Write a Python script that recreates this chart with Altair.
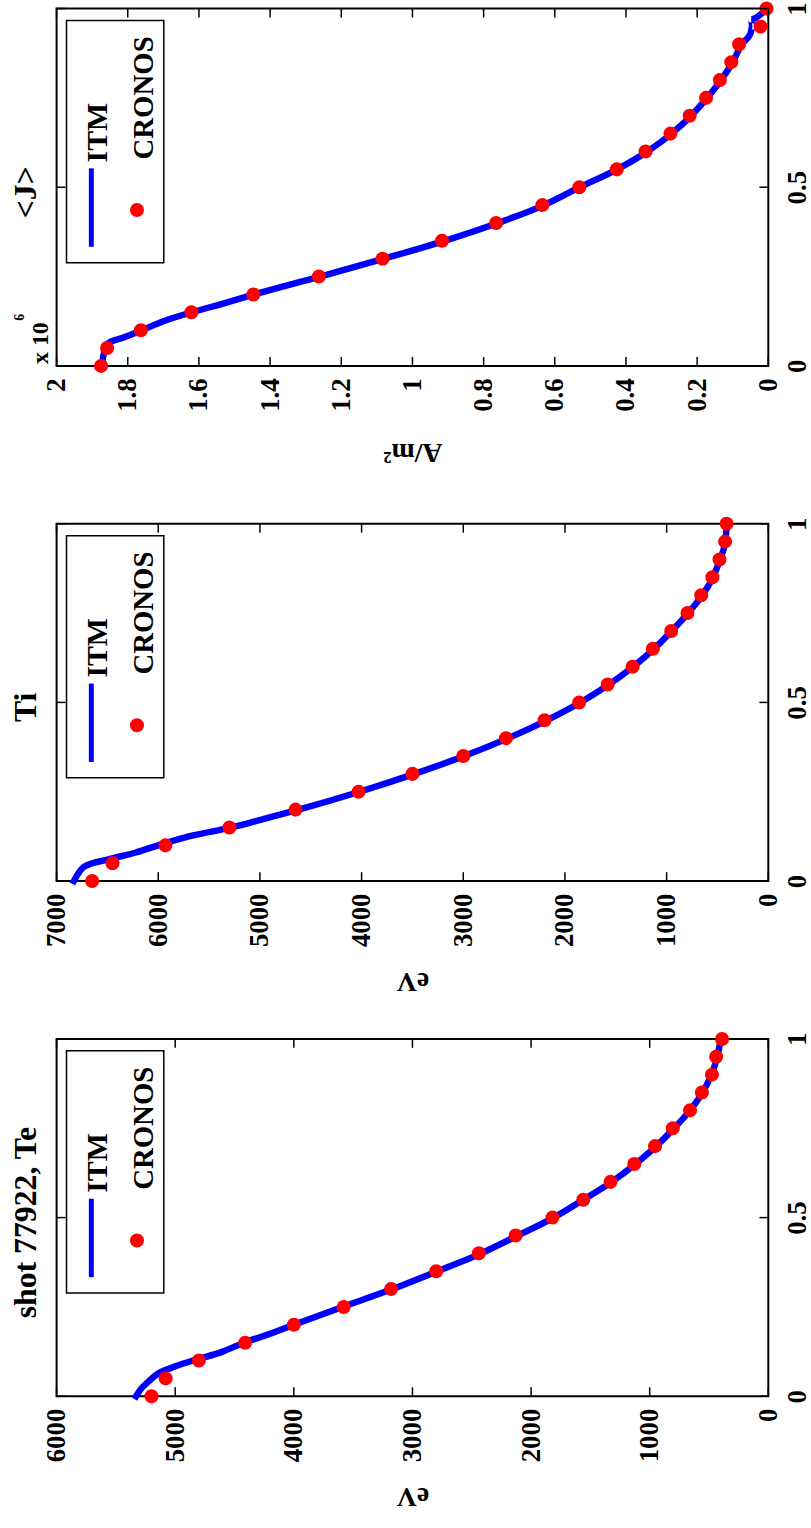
import altair as alt
import pandas as pd

# ---------------- data ----------------
RHO_DOTS = [0.0, 0.05, 0.1, 0.15, 0.2, 0.25, 0.3, 0.35, 0.4, 0.45, 0.5,
            0.55, 0.6, 0.65, 0.7, 0.75, 0.8, 0.85, 0.9, 0.95, 1.0]
TE_CRONOS = [5200, 5080, 4800, 4410, 4000, 3580, 3180, 2800, 2440, 2130, 1820,
             1560, 1330, 1130, 955, 805, 660, 560, 475, 440, 390]
TI_CRONOS = [6650, 6450, 5930, 5300, 4650, 4030, 3500, 3000, 2580, 2200, 1860,
             1580, 1335, 1135, 955, 795, 660, 550, 480, 425, 410]
J_CRONOS = [1.875, 1.858, 1.763, 1.621, 1.447, 1.263, 1.084, 0.917, 0.765, 0.635, 0.531,
            0.426, 0.345, 0.275, 0.221, 0.175, 0.136, 0.104, 0.082, 0.022, 0.005]

RHO_LINE = [0.0, 0.02, 0.04, 0.06, 0.08, 0.1, 0.125, 0.15, 0.175, 0.2, 0.25, 0.3,
            0.35, 0.4, 0.45, 0.5, 0.55, 0.6, 0.65, 0.7, 0.75, 0.8, 0.85, 0.9, 0.95, 1.0]
TE_ITM = [5330, 5290, 5230, 5160, 5030, 4850, 4600, 4420, 4200, 4000, 3590, 3170,
          2790, 2420, 2110, 1810, 1560, 1320, 1120, 945, 795, 660, 555, 480, 430, 400]
TI_ITM = [6830, 6790, 6730, 6500, 6220, 6000, 5700, 5280, 4950, 4620, 4020, 3480,
          2990, 2560, 2180, 1850, 1570, 1330, 1125, 950, 790, 650, 545, 475, 425, 405]

RHO_LINE_J = [0.0, 0.02, 0.04, 0.06, 0.08, 0.1, 0.125, 0.15, 0.175, 0.2, 0.25, 0.3,
              0.35, 0.4, 0.45, 0.5, 0.55, 0.6, 0.65, 0.7, 0.75, 0.8, 0.85, 0.9,
              0.93, 0.95, 0.97, 0.985, 1.0]
J_ITM = [1.87, 1.87, 1.865, 1.86, 1.81, 1.76, 1.70, 1.62, 1.53, 1.445, 1.26, 1.08,
         0.91, 0.76, 0.63, 0.53, 0.425, 0.34, 0.272, 0.217, 0.172, 0.133, 0.10, 0.075,
         0.05, 0.045, 0.048, 0.02, 0.005]

TE_TICKS = [0, 1000, 2000, 3000, 4000, 5000, 6000]
TI_TICKS = [0, 1000, 2000, 3000, 4000, 5000, 6000, 7000]
J_TICKS = [0, 0.2, 0.4, 0.6, 0.8, 1.0, 1.2, 1.4, 1.6, 1.8, 2.0]
RHO_TICKS = [0, 0.5, 1]

TITLES = ["<J>", "Ti", "shot 77922, Te"]
UNITS = ["A/m²", "eV", "eV"]
LEGEND = ["ITM", "CRONOS"]
EXPONENT = ["x 10", "6"]

W, H = 717, 360
FONT = "Liberation Serif"
BLUE = "#0000ff"
RED = "#ff0000"


def txt(value, **kw):
    base = dict(font=FONT, fontWeight="bold", color="black")
    base.update(kw)
    return alt.Chart(pd.DataFrame({"t": [value]})).mark_text(**base)


def panel(rho_line, itm, cronos, vticks, vmax, title, unit, fmt, title_y, exponent=False):
    xs = alt.Scale(domain=[0, vmax], reverse=True, nice=False, zero=False)
    ys = alt.Scale(domain=[0, 1], nice=False)
    xaxis = alt.Axis(values=vticks, format=fmt, orient="bottom", labelAngle=270,
                     labelAlign="right", labelBaseline="middle", labelPadding=12,
                     labelFont=FONT, labelFontSize=27, labelFontWeight="bold",
                     labelColor="black", ticks=False, tickSize=0, domain=False,
                     grid=False, labelOverlap=False, labelFlush=False,
                     title=unit, titleAngle=180, titleX=W / 2, titleY=title_y,
                     titleAlign="center", titleBaseline="middle", titleFont=FONT,
                     titleFontSize=28, titleFontWeight="bold", titleColor="black")
    yaxis = alt.Axis(values=RHO_TICKS, format="~g", orient="right", labelAngle=270,
                     labelAlign="center", labelBaseline="top", labelPadding=16,
                     labelFont=FONT, labelFontSize=27, labelFontWeight="bold",
                     labelColor="black", ticks=False, tickSize=0, domain=False,
                     grid=False, labelOverlap=False, labelFlush=False, title=None)

    line_df = pd.DataFrame({"rho": rho_line, "v": itm})
    dot_df = pd.DataFrame({"rho": RHO_DOTS, "v": cronos})

    line = alt.Chart(line_df).mark_line(color=BLUE, strokeWidth=6.5, strokeCap="square",
                                        interpolate="monotone").encode(
        x=alt.X("v:Q", scale=xs, axis=xaxis),
        y=alt.Y("rho:Q", scale=ys, axis=yaxis),
        order="rho:Q",
    )
    dots = alt.Chart(dot_df).mark_point(filled=True, color=RED, size=200, opacity=1).encode(
        x=alt.X("v:Q", scale=xs), y=alt.Y("rho:Q", scale=ys)
    )

    vt = pd.DataFrame({"v": vticks})
    rt = pd.DataFrame({"rho": RHO_TICKS})
    tick_style = dict(color="black", strokeWidth=1.5)
    vt_bot = alt.Chart(vt).mark_rule(**tick_style).encode(
        x=alt.X("v:Q", scale=xs), y=alt.value(H), y2=alt.value(H - 9))
    vt_top = alt.Chart(vt).mark_rule(**tick_style).encode(
        x=alt.X("v:Q", scale=xs), y=alt.value(0), y2=alt.value(9))
    rt_right = alt.Chart(rt).mark_rule(**tick_style).encode(
        y=alt.Y("rho:Q", scale=ys), x=alt.value(W), x2=alt.value(W - 9))
    rt_left = alt.Chart(rt).mark_rule(**tick_style).encode(
        y=alt.Y("rho:Q", scale=ys), x=alt.value(0), x2=alt.value(9))

    one = pd.DataFrame({"a": [0]})
    box = alt.Chart(one).mark_rect(fillOpacity=0, stroke="black", strokeWidth=1.5).encode(
        x=alt.value(10), x2=alt.value(108), y=alt.value(12), y2=alt.value(256))
    leg_line = alt.Chart(one).mark_rule(color=BLUE, strokeWidth=5).encode(
        x=alt.value(35), y=alt.value(161), y2=alt.value(240))
    leg_dot = alt.Chart(one).mark_point(filled=True, color=RED, size=200, opacity=1).encode(
        x=alt.value(81), y=alt.value(203))
    leg_t1 = txt(LEGEND[0], angle=270, align="left", baseline="middle", fontSize=30).encode(
        x=alt.value(42), y=alt.value(155), text="t:N")
    leg_t2 = txt(LEGEND[1], angle=270, align="left", baseline="middle", fontSize=29).encode(
        x=alt.value(88), y=alt.value(152), text="t:N")

    ttl = txt(title, angle=270, align="center", baseline="middle", fontSize=32).encode(
        x=alt.value(-31), y=alt.value(185), text="t:N")

    layers = [line, dots, vt_bot, vt_top, rt_right, rt_left, box, leg_line, leg_dot,
              leg_t1, leg_t2, ttl]
    if exponent:
        e1 = txt(EXPONENT[0], angle=270, align="center", baseline="middle", fontSize=24).encode(
            x=alt.value(-16), y=alt.value(337), text="t:N")
        e2 = txt(EXPONENT[1], angle=270, align="center", baseline="middle", fontSize=14).encode(
            x=alt.value(-37), y=alt.value(311), text="t:N")
        layers += [e1, e2]
    return alt.layer(*layers).properties(width=W, height=H)


top = panel(RHO_LINE_J, J_ITM, J_CRONOS, J_TICKS, 2.0, TITLES[0], UNITS[0], "~g", 86, exponent=True)
mid = panel(RHO_LINE, TI_ITM, TI_CRONOS, TI_TICKS, 7000, TITLES[1], UNITS[1], "d", 100)
bot = panel(RHO_LINE, TE_ITM, TE_CRONOS, TE_TICKS, 6000, TITLES[2], UNITS[2], "d", 100)

chart = alt.vconcat(top, mid, bot, spacing=159, bounds="flush").properties(
    padding={"left": 9, "top": -11, "right": 0, "bottom": 0},
    background="white",
).configure_view(stroke="black", strokeWidth=2)

chart.save("out.html", embed_options={"renderer": "svg", "actions": False})
